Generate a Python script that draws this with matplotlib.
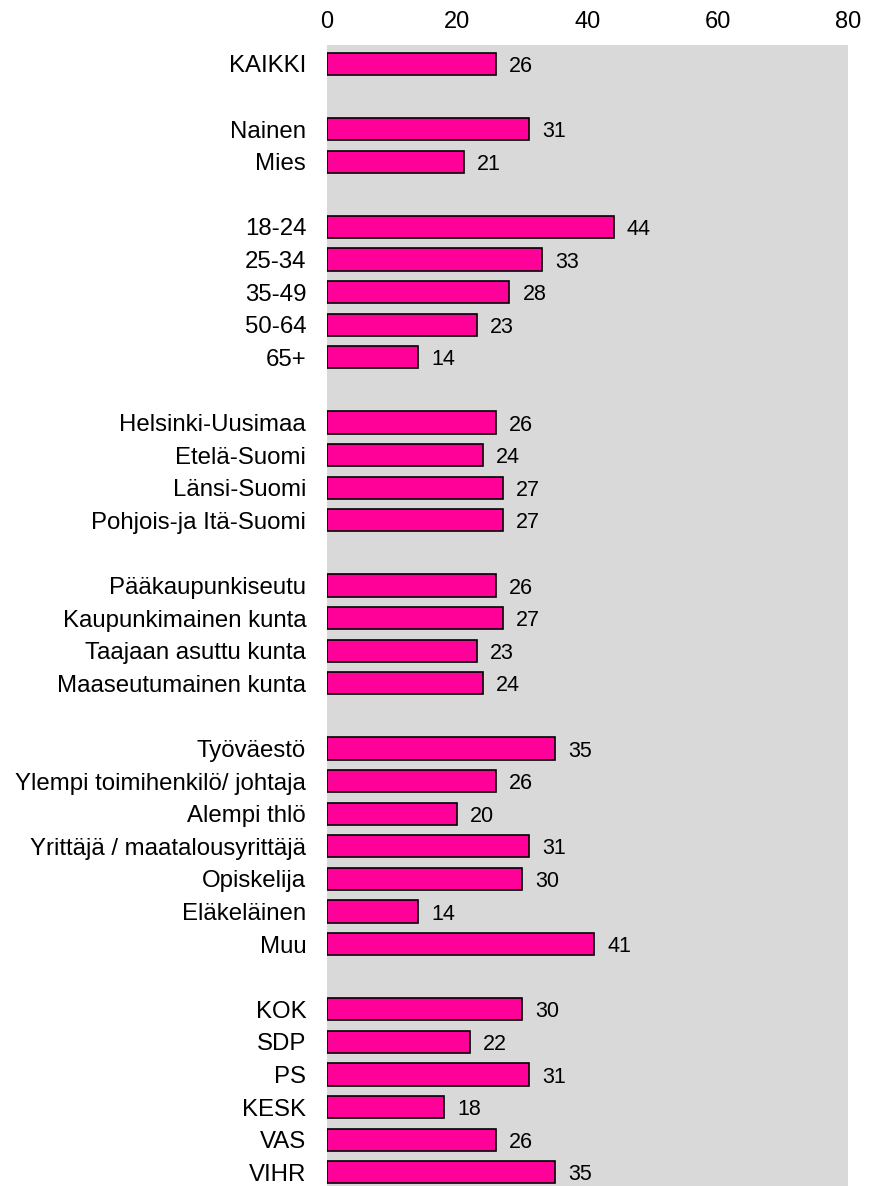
import matplotlib
matplotlib.use("Agg")
import matplotlib.pyplot as plt

plt.rcParams['font.family'] = ['Liberation Sans', 'DejaVu Sans']

categories = ["KAIKKI", "", "Nainen", "Mies", "",
              "18-24", "25-34", "35-49", "50-64", "65+", "",
              "Helsinki-Uusimaa", "Etelä-Suomi", "Länsi-Suomi", "Pohjois-ja Itä-Suomi", "",
              "Pääkaupunkiseutu", "Kaupunkimainen kunta", "Taajaan asuttu kunta", "Maaseutumainen kunta", "",
              "Työväestö", "Ylempi toimihenkilö/ johtaja", "Alempi thlö", "Yrittäjä / maatalousyrittäjä",
              "Opiskelija", "Eläkeläinen", "Muu", "",
              "KOK", "SDP", "PS", "KESK", "VAS", "VIHR"]
values = [26, None, 31, 21, None,
          44, 33, 28, 23, 14, None,
          26, 24, 27, 27, None,
          26, 27, 23, 24, None,
          35, 26, 20, 31, 30, 14, 41, None,
          30, 22, 31, 18, 26, 35]
xticks = [0, 20, 40, 60, 80]

fig = plt.figure(figsize=(8.7, 11.86), dpi=100)
ax = fig.add_axes([327/870, 0, (848-327)/870, 1 - 45/1186])
ax.set_facecolor('#D9D9D9')

for i, v in enumerate(values):
    if v is None:
        continue
    ax.barh(i, v, height=0.68, color='#FF0099', edgecolor='black', linewidth=1.2)
    ax.text(v + 2.0, i, f"{v}", va='center_baseline', ha='left', fontsize=15.5)

ax.set_xlim(0, 80)
ax.set_ylim(34.42, -0.58)
ax.set_yticks(range(len(categories)))
ax.set_yticklabels(categories, fontsize=17.3)
ax.set_xticks(xticks)
ax.set_xticklabels([str(t) for t in xticks], fontsize=17)
ax.xaxis.tick_top()
ax.tick_params(axis='x', length=0, pad=9)
ax.tick_params(axis='y', length=0, pad=15)
for s in ax.spines.values():
    s.set_visible(False)

fig.savefig("out.png", dpi=100)
